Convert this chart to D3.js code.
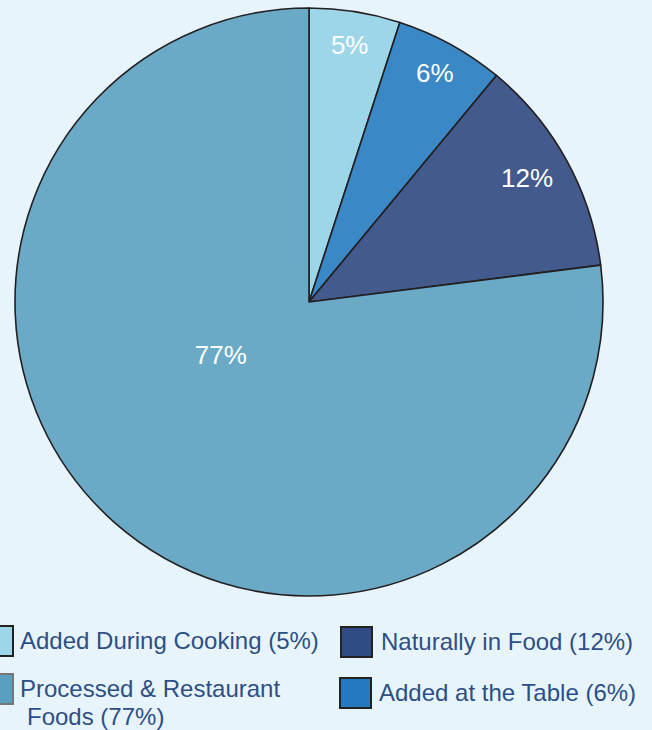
<!DOCTYPE html>
<html>
<head>
<meta charset="utf-8">
<script src="https://cdn.jsdelivr.net/npm/d3@7"></script>
<style>
  body { margin: 0; background: #e7f4fb; }
  svg { display: block; font-family: Arial, "Liberation Sans", sans-serif; }
</style>
</head>
<body>
<svg id="chart" width="652" height="730"></svg>
<script>
// slices, clockwise from 12 o'clock
const names = ["Added During Cooking", "Added at the Table", "Naturally in Food", "Processed & Restaurant Foods"]
const values = [5, 6, 12, 77]
const sliceColors = ["#9dd5e9", "#3a88c6", "#425b8c", "#6aaac6"]

// legend entries (order as shown: left column then right column)
const legendLabels = [["Added During Cooking (5%)"], ["Processed & Restaurant", "Foods (77%)"], ["Naturally in Food (12%)"], ["Added at the Table (6%)"]]
const legendColors = ["#9dd5e9", "#5a9fbf", "#2f4c85", "#2479c1"]
const legendStroke = ["#222", "#777", "#222", "#222"]

const width = 652
const height = 730
const cx = 309, cy = 302, radius = 294

var svg = d3.select("#chart")

var pie = d3.pie().sort(null).value(d => d)
var arcs = pie(values)

var arc = d3.arc().innerRadius(0).outerRadius(radius)

var g = svg.append("g").attr("transform", "translate(" + cx + "," + cy + ")")

g.selectAll("path")
  .data(arcs)
  .enter()
  .append("path")
  .attr("d", arc)
  .attr("fill", (d, i) => sliceColors[i])
  .attr("stroke", "#231f20")
  .attr("stroke-width", 1.6)
  .attr("stroke-linejoin", "round")

// label placement: radius and angle nudge (radians) per slice
const labelRadius = [260, 261, 251, 103]
const labelNudge = [0, 0, -0.015, 0.305]

g.selectAll("text")
  .data(arcs)
  .enter()
  .append("text")
  .attr("x", (d, i) => labelRadius[i] * Math.sin((d.startAngle + d.endAngle) / 2 + labelNudge[i]))
  .attr("y", (d, i) => -labelRadius[i] * Math.cos((d.startAngle + d.endAngle) / 2 + labelNudge[i]))
  .attr("text-anchor", "middle")
  .attr("dominant-baseline", "central")
  .attr("fill", "#ffffff")
  .attr("font-size", "26px")
  .text(d => d.value + "%")

// legend
const legendX = [-18, -18, 341, 340]
const legendY = [626, 674, 627, 678]
const legendTextX = [20, 20, 381, 379]

var legend = svg.append("g")
legendLabels.forEach(function(lines, i) {
  legend.append("rect")
    .attr("x", legendX[i])
    .attr("y", legendY[i])
    .attr("width", 31)
    .attr("height", 30)
    .attr("fill", legendColors[i])
    .attr("stroke", legendStroke[i])
    .attr("stroke-width", 2)
  var t = legend.append("text")
    .attr("x", legendTextX[i])
    .attr("y", legendY[i] + 23)
    .attr("fill", "#2d4f85")
    .attr("font-size", "24px")
  lines.forEach(function(line, j) {
    t.append("tspan")
      .attr("x", legendTextX[i] + (j > 0 ? 7 : 0))
      .attr("dy", j > 0 ? 28 : 0)
      .text(line)
  })
})
</script>
</body>
</html>
